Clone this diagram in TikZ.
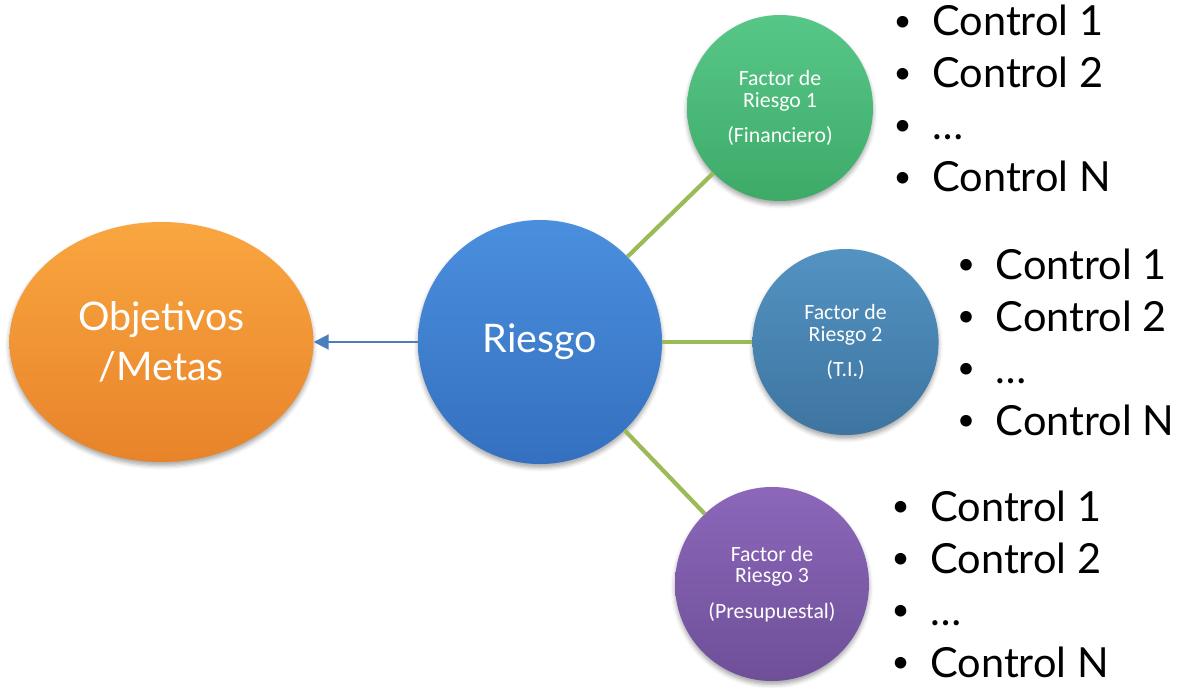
\documentclass[tikz,border=0pt]{standalone}
\usepackage{fontspec}
\setmainfont{Lato}
\newfontfamily\calibri{Carlito}
\usetikzlibrary{positioning,arrows.meta,calc,shapes.geometric,shadows.blur}

\definecolor{objtop}{HTML}{F9A640}
\definecolor{objbot}{HTML}{E8832A}
\definecolor{rtop}{HTML}{4A8FDE}
\definecolor{rbot}{HTML}{3470BF}
\definecolor{gtop}{HTML}{57C788}
\definecolor{gbot}{HTML}{3DAA68}
\definecolor{btop}{HTML}{5393C2}
\definecolor{bbot}{HTML}{3E74A0}
\definecolor{ptop}{HTML}{8C67BA}
\definecolor{pbot}{HTML}{6E4F98}
\definecolor{linkgreen}{HTML}{9BBB59}
\definecolor{arrblue}{HTML}{4A7EBB}

% smaller bullet than Lato's own
\newcommand{\bul}{\raisebox{0.1em}{\scalebox{0.75}{\textbullet}}\hspace{0.5em}}

\begin{document}
\begin{tikzpicture}[
  soft/.style={blur shadow={shadow xshift=0pt, shadow yshift=-2.5pt,
               shadow blur radius=3pt, shadow opacity=35}},
  big/.style={soft, text=white, align=center, inner sep=0pt,
              font=\fontsize{28}{35.5}\selectfont},
  factor/.style={soft, circle, minimum size=4.65cm, inner sep=0pt, align=center,
                 text=white, font=\calibri\fontsize{15.5}{15.5}\selectfont},
  ctrl/.style={align=left, inner sep=0pt, font=\fontsize{29.5}{37}\selectfont},
  link/.style={draw=linkgreen, line width=3pt},
  arr/.style={-{Triangle[length=3.7mm,width=3.7mm]}, draw=arrblue, fill=arrblue,
              line width=1.4pt}]
\useasboundingbox (-13.5,-8.625) rectangle (15.925,8.55);

% centre and goal
\node[big, circle, minimum size=6.1cm, top color=rtop, bottom color=rbot] (riesgo)
  at (0,0) {Riesgo};
\node[big, ellipse, minimum width=7.6cm, minimum height=6cm,
      top color=objtop, bottom color=objbot, left=2.6cm of riesgo] (obj)
  {Objetivos\\/Metas};

% risk factors
\node[factor, top color=gtop, bottom color=gbot] (f1) at ($(riesgo)+(6,5.85)$)
  {Factor de\\Riesgo 1\\[3.5mm](Financiero)};
\node[factor, top color=btop, bottom color=bbot, right=2.25cm of riesgo] (f2)
  {Factor de\\Riesgo 2\\[3.5mm](T.I.)};
\node[factor, minimum size=4.85cm, top color=ptop, bottom color=pbot] (f3)
  at ($(riesgo)+(5.8,-6.05)$)
  {Factor de\\Riesgo 3\\[3.5mm](Presupuestal)};

\draw[link] (riesgo) -- (f1);
\draw[link] (riesgo) -- (f2);
\draw[link] (riesgo) -- (f3);
\draw[arr] (riesgo.west) -- (obj.east);

% controls per factor
\node[ctrl, right=0.5cm of f1, yshift=2.3mm] (c1)
  {\bul Control 1\\ \bul Control 2\\ \bul …\\ \bul Control N};
\node[ctrl, right=0.45cm of f2] (c2)
  {\bul Control 1\\ \bul Control 2\\ \bul …\\ \bul Control N};
\node[ctrl, right=0.55cm of f3] (c3)
  {\bul Control 1\\ \bul Control 2\\ \bul …\\ \bul Control N};
\end{tikzpicture}
\end{document}
